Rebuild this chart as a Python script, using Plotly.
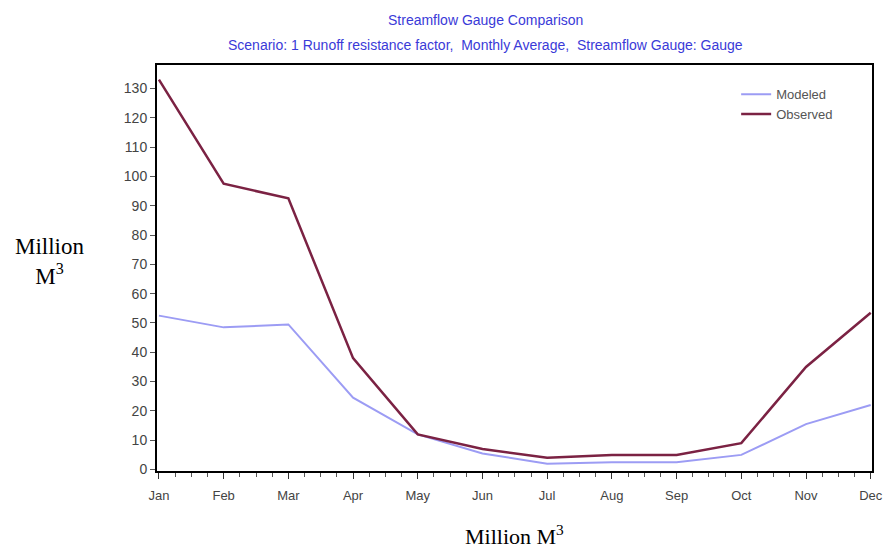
import plotly.graph_objects as go

# Datos (millones de m3, promedio mensual)
months = ['Jan', 'Feb', 'Mar', 'Apr', 'May', 'Jun', 'Jul', 'Aug', 'Sep', 'Oct', 'Nov', 'Dec']
modeled = [52.5, 48.5, 49.5, 24.5, 12.0, 5.5, 2.0, 2.5, 2.5, 5.0, 15.5, 22.0]
observed = [133.0, 97.5, 92.5, 38.0, 12.0, 7.0, 4.0, 5.0, 5.0, 9.0, 35.0, 53.5]
y_ticks = list(range(0, 131, 10))

x = list(range(len(months)))
narrow = 'Liberation Sans Narrow, Arial Narrow, Liberation Sans, Arial'
serif = 'Liberation Serif, Times New Roman, DejaVu Serif, serif'
title_color = '#3a3ad8'

fig = go.Figure()
fig.add_trace(go.Scatter(x=x, y=modeled, mode='lines', name='Modeled',
                         line=dict(color='#9c9cf4', width=2)))
fig.add_trace(go.Scatter(x=x, y=observed, mode='lines', name='Observed',
                         line=dict(color='#7b2243', width=2.5)))

fig.update_layout(
    width=887, height=552,
    plot_bgcolor='white', paper_bgcolor='white',
    margin=dict(l=157, r=15, t=65, b=81, autoexpand=False),
    legend=dict(x=0.81, y=0.965, xanchor='left', yanchor='top',
                bgcolor='rgba(0,0,0,0)', itemwidth=30,
                font=dict(family=narrow, size=13, color='#555555')),
    showlegend=True,
)

# Titulo en dos lineas (anotaciones para controlar la posicion)
fig.add_annotation(text='Streamflow Gauge Comparison', xref='paper', yref='paper',
                   x=0.459, y=1.111, xanchor='center', yanchor='middle', showarrow=False,
                   font=dict(family=narrow, size=14, color=title_color))
fig.add_annotation(text='Scenario: 1 Runoff resistance factor,  Monthly Average,  Streamflow Gauge: Gauge',
                   xref='paper', yref='paper',
                   x=0.459, y=1.049, xanchor='center', yanchor='middle', showarrow=False,
                   font=dict(family=narrow, size=14, color=title_color))

fig.update_xaxes(
    range=[-0.03, 11.02], tickvals=x, ticktext=months, automargin=False,
    ticks='outside', ticklen=6, tickcolor='#333333', ticklabelstandoff=5,
    minor=dict(dtick=0.25, ticks='outside', ticklen=4, tickcolor='#555555'),
    showline=True, linecolor='black', linewidth=2, mirror=True,
    showgrid=False, zeroline=False,
    tickfont=dict(family=narrow, size=13, color='#444444'),
)
fig.update_yaxes(
    range=[-0.5, 138], tickvals=y_ticks, automargin=False,
    ticks='outside', ticklen=5, tickcolor='#555555',
    showline=True, linecolor='black', linewidth=2, mirror=True,
    showgrid=False, zeroline=False,
    tickfont=dict(family=narrow, size=14, color='#444444'),
)

fig.add_annotation(text='Million M<sup>3</sup>', xref='paper', yref='paper',
                   x=0.5, y=-0.118, xanchor='center', yanchor='top', showarrow=False,
                   font=dict(family=serif, size=22, color='black'))
fig.add_annotation(text='Million<br>M<sup>3</sup>', xref='paper', yref='paper',
                   x=-0.15, y=0.515, xanchor='center', yanchor='middle', showarrow=False,
                   font=dict(family=serif, size=23, color='black'))

# quitar el margen por defecto del body para que la figura ocupe la ventana
fig.write_html('out.html', config={'displayModeBar': False},
               post_script="document.body.style.margin='0';document.body.style.overflow='hidden';")
